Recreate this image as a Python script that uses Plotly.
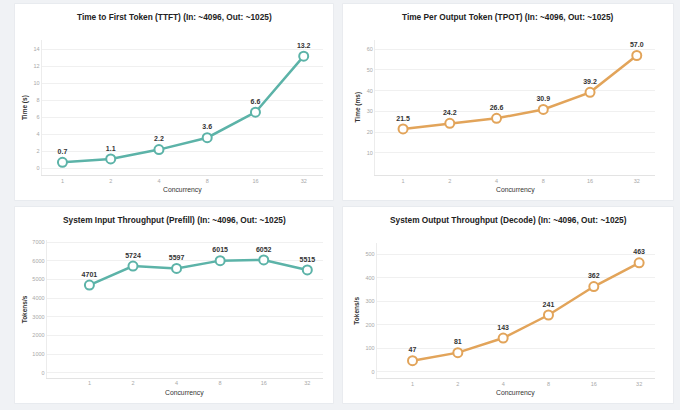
import plotly.graph_objects as go

concurrency = ["1", "2", "4", "8", "16", "32"]
ttft_s = [0.7, 1.1, 2.2, 3.6, 6.6, 13.2]
tpot_ms = [21.5, 24.2, 26.6, 30.9, 39.2, 57.0]
input_tps = [4701, 5724, 5597, 6015, 6052, 5515]
output_tps = [47, 81, 143, 241, 362, 463]

titles = [
    "Time to First Token (TTFT) (In: ~4096, Out: ~1025)",
    "Time Per Output Token (TPOT) (In: ~4096, Out: ~1025)",
    "System Input Throughput (Prefill) (In: ~4096, Out: ~1025)",
    "System Output Throughput (Decode) (In: ~4096, Out: ~1025)",
]
y_titles = ["Time (s)", "Time (ms)", "Tokens/s", "Tokens/s"]

W, H = 680, 410
TEAL = "#5cb3a8"
ORANGE = "#e2a45a"
FONT = "Liberation Sans, Arial, sans-serif"
BG = "#f0f2f5"


def px(x):
    return x / W


def py(y):
    return 1 - y / H


panels = [
    dict(data=ttft_s, color=TEAL, fmt="%{y:.1f}", xpx=(41.7, 323), ypx=(40, 175),
         xr=[-0.43, 5.4], yr=[-0.79, 15.1], tickvals=[0, 2, 4, 6, 8, 10, 12, 14],
         card=(15, 4, 333, 200), title_y=17, ytitle_x=24.5, xtitle_y=189.5),
    dict(data=tpot_ms, color=ORANGE, fmt="%{y:.1f}", xpx=(375, 655), ypx=(40, 175),
         xr=[-0.6, 5.39], yr=[-0.8, 64.5], tickvals=[10, 20, 30, 40, 50, 60],
         card=(343, 4, 673, 200), title_y=17, ytitle_x=357, xtitle_y=189.5),
    dict(data=input_tps, color=TEAL, fmt="%{y:.0f}", xpx=(46.7, 323), ypx=(240, 377.7),
         xr=[-0.98, 5.36], yr=[-268, 7123], tickvals=[0, 1000, 2000, 3000, 4000, 5000, 6000, 7000],
         card=(15, 207, 333, 403), title_y=220, ytitle_x=24.5, xtitle_y=392.5),
    dict(data=output_tps, color=ORANGE, fmt="%{y:.0f}", xpx=(376.7, 655), ypx=(243, 378.3),
         xr=[-0.79, 5.35], yr=[-28, 547], tickvals=[0, 100, 200, 300, 400, 500],
         card=(343, 207, 673, 403), title_y=220, ytitle_x=357, xtitle_y=392.5),
]

fig = go.Figure()
shapes = []
annotations = []
layout_axes = {}

for i, p in enumerate(panels):
    n = "" if i == 0 else str(i + 1)
    xa, ya = "x" + n, "y" + n
    fig.add_trace(go.Scatter(
        x=concurrency, y=p["data"], xaxis=xa, yaxis=ya,
        mode="lines+markers+text",
        line=dict(color=p["color"], width=2.5),
        marker=dict(size=9, color="white", line=dict(color=p["color"], width=2)),
        texttemplate=p["fmt"], textposition="top center",
        textfont=dict(family=FONT, size=7, color="#333333", weight="bold"),
        cliponaxis=False, showlegend=False, hoverinfo="skip",
    ))
    layout_axes["xaxis" + n] = dict(
        domain=[px(p["xpx"][0]), px(p["xpx"][1])], anchor=ya, type="category",
        range=p["xr"], showgrid=False, zeroline=False,
        showline=True, linecolor="#e3e3e3", linewidth=1, ticks="",
        tickfont=dict(family=FONT, size=5.5, color="#a8a8a8"),
    )
    layout_axes["yaxis" + n] = dict(
        domain=[py(p["ypx"][1]), py(p["ypx"][0])], anchor=xa,
        range=p["yr"], tickvals=p["tickvals"], showgrid=True, gridcolor="#f0f0f0",
        gridwidth=1, zeroline=False, showline=True, linecolor="#ececec", linewidth=1,
        ticks="", tickfont=dict(family=FONT, size=5.5, color="#a8a8a8"),
    )
    x0, y0, x1, y1 = p["card"]
    shapes.append(dict(type="rect", xref="paper", yref="paper", layer="below",
                       x0=px(x0) - 0.001, x1=px(x1) + 0.001, y0=py(y1) - 0.002, y1=py(y0) + 0.002,
                       fillcolor="#e6e8ec", line=dict(width=0)))
    shapes.append(dict(type="rect", xref="paper", yref="paper", layer="below",
                       x0=px(x0), x1=px(x1), y0=py(y1), y1=py(y0),
                       fillcolor="white", line=dict(width=0)))
    annotations.append(dict(text="<b>" + titles[i] + "</b>", xref="paper", yref="paper",
                            x=px((x0 + x1) / 2), y=py(p["title_y"]), showarrow=False,
                            xanchor="center", yanchor="middle",
                            font=dict(family=FONT, size=8.3, color="#222222")))
    annotations.append(dict(text="Concurrency", xref="paper", yref="paper",
                            x=px((p["xpx"][0] + p["xpx"][1]) / 2), y=py(p["xtitle_y"]),
                            showarrow=False, xanchor="center", yanchor="middle",
                            font=dict(family=FONT, size=6.8, color="#333333")))
    annotations.append(dict(text="<b>" + y_titles[i] + "</b>", xref="paper", yref="paper",
                            x=px(p["ytitle_x"]), y=py((p["ypx"][0] + p["ypx"][1]) / 2),
                            textangle=-90, showarrow=False, xanchor="center", yanchor="middle",
                            font=dict(family=FONT, size=6.5, color="#333333")))

fig.update_layout(
    width=W, height=H, margin=dict(l=0, r=0, t=0, b=0),
    paper_bgcolor=BG, plot_bgcolor="rgba(0,0,0,0)",
    shapes=shapes, annotations=annotations, hovermode=False, **layout_axes,
)

fig.write_html(
    "out.html",
    config={"displayModeBar": False, "staticPlot": True},
    post_script="document.body.style.margin='0';document.body.style.padding='0';"
                "document.body.style.background='" + BG + "';",
)
